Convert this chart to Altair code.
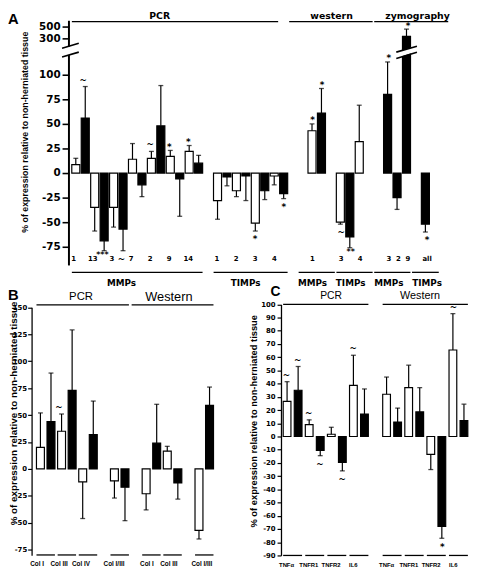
import altair as alt
import pandas as pd

YTITLE = "% of expression relative to non-herniated tissue"

# ================= Panel A (PCR / western / zymography) =================
a_slot = [0, 1, 2, 3, 4, 5, 6, 7, 8, 9, 10, 11, 12, 13,
          15, 16, 17, 18, 19, 20, 21, 22,
          25, 26, 28, 29, 30,
          33, 34, 35, 37]
a_fill = (["w", "b"] * 7 + ["w", "b"] * 4
          + ["w", "b", "w", "b", "w"] + ["b", "b", "b", "b"])
a_value = [8.5, 56, -35, -69, -35, -57, 14, -12, 15, 48, 17, -6, 22, 10,
           -28, -4, -18, -3, -51, -18, -3, -21,
           43, 61, -50, -65, 32,
           80, -25, 335, -52]
a_err = [15, 88, -59, -79, -55, -79, 30, -24, 22, 89, 23, -44, 28, 18,
         -47, -13, -24, -28, -59, -27, -12, -26,
         50, 86, -52, -76, 69,
         113, -37, 458, -60]
a_sig = ["", "~", "", "***", "", "~", "", "", "~", "", "*", "", "*", "",
         "", "", "", "", "*", "", "", "*",
         "*", "*", "~", "**", "",
         "*", "", "*", "*"]
a_cat_text = ["1", "13", "3", "7", "2", "9", "14", "1", "2", "3", "4",
              "1", "3", "4", "3", "2", "9", "all"]
a_cat_slot = [0, 2, 4, 6, 8, 10, 12, 15, 17, 19, 21, 25, 28, 30, 33, 34, 35, 37]
a_grp_text = ["MMPs", "TIMPs", "MMPs", "TIMPs", "MMPs", "TIMPs"]
a_grp_from = [0, 15, 24, 28, 32, 36]
a_grp_to = [13, 22, 27, 31, 35, 38]
a_grp_at = [5, 18, 25, 29, 33, 37]
a_top_text = ["PCR", "western", "zymography"]
a_top_from = [0, 23, 32]
a_top_to = [21, 31, 39]
a_top_at = [9, 27, 36]
a_ticks = [-75, -50, -25, 0, 25, 50, 75, 100, 300, 500]
a_axis_lo = [-94, 200]
a_axis_hi = [120, 600]

# ================= Panel B (collagens) =================
b_slot = [0, 1, 2, 3, 4, 5, 7, 8, 10, 11, 12, 13, 15, 16]
b_fill = ["w", "b"] * 7
b_value = [20, 44, 35, 73, -12, 32, -11, -17, -23, 24, 16.5, -13, -57, 59]
b_err = [52, 89, 51, 129, -46, 63, -27, -48, -38, 60, 21, -28, -65, 76]
b_sig = ["", "", "~", "", "", "", "", "", "", "", "", "", "", ""]
b_cat_text = ["Col I", "Col III", "Col IV", "Col I/III", "Col I", "Col III", "Col I/III"]
b_cat_slot = [0, 2, 4, 7, 10, 12, 15]
b_top_text = ["PCR", "Western"]
b_top_from = [0, 9]
b_top_to = [8, 16]
b_top_at = [4, 12]
b_ticks = [150, 125, 100, 75, 50, 25, 0, -25, -50, -75]

# ================= Panel C (cytokines) =================
c_slot = [0, 1, 2, 3, 4, 5, 6, 7, 9, 10, 11, 12, 13, 14, 15, 16]
c_fill = ["w", "b"] * 8
c_value = [26.6, 35, 9, -10.6, 1.7, -19.5, 38.7, 17, 32, 11, 37, 18.6, -13.5, -68, 65.5, 12]
c_err = [41.5, 53, 12.6, -14.5, 7, -26, 61.5, 36, 45, 21.5, 54, 37, -25, -77, 93, 24.5]
c_sig = ["~", "~", "~", "~", "", "~", "~", "", "", "", "", "", "", "*", "~", ""]
c_cat_text = ["TNFα", "TNFR1", "TNFR2", "IL6", "TNFα", "TNFR1", "TNFR2", "IL6"]
c_cat_slot = [0, 2, 4, 6, 9, 11, 13, 15]
c_top_text = ["PCR", "Western"]
c_top_from = [0, 9]
c_top_to = [7, 16]
c_top_at = [4, 12]
c_ticks = list(range(100, -91, -10))

# ---------------------------------------------------------------
FILL_SCALE = alt.Scale(domain=["w", "b"], range=["white", "black"])
ONE = pd.DataFrame({"k": [0]})


def names(prefix, idx):
    return [f"{prefix}{i}" for i in idx]


def bars_df(prefix, slots, fills, values, errs, sigs):
    df = pd.DataFrame({"slot": names(prefix, slots), "fill": fills,
                       "value": values, "err": errs, "sig": sigs})
    df["dir"] = ["up" if e >= 0 else "down" for e in errs]
    df["kind"] = [("multi" if len(s) > 1 else "star") if "*" in s else ("tilde" if s else "")
                  for s in sigs]
    return df


def core_layers(df, xs, ys, axis):
    x = alt.X("slot:N", scale=xs, axis=None)
    base = alt.Chart(df)
    bars = base.mark_bar(stroke="black", strokeWidth=1.2).encode(
        x=x, y=alt.Y("value:Q", scale=ys, axis=axis, stack=None),
        fill=alt.Fill("fill:N", scale=FILL_SCALE, legend=None))
    whisk = base.mark_rule(color="black", strokeWidth=1.2).encode(
        x=x, y=alt.Y("value:Q", scale=ys, axis=None), y2="err")
    caps = base.mark_tick(color="black", orient="horizontal", size=5, thickness=1.3).encode(
        x=x, y=alt.Y("err:Q", scale=ys, axis=None))
    layers = [bars, whisk, caps]
    for d, k, dy, fs in [("up", "tilde", -7, 9), ("up", "star", -3.5, 9),
                         ("down", "tilde", 8.5, 9), ("down", "star", 8.5, 9),
                         ("down", "multi", 4, 8)]:
        layers.append(
            base.transform_filter(f"datum.dir == '{d}' && datum.kind == '{k}'")
            .mark_text(font="DejaVu Sans", fontWeight="bold", fontSize=fs, dy=dy,
                       baseline="middle", align="center", color="black", fill="black")
            .encode(x=x, y=alt.Y("err:Q", scale=ys, axis=None), text="sig:N"))
    return layers


def text_row(prefix, texts, slots, xs, ypix, size, font, weight="bold", band=0.5):
    df = pd.DataFrame({"slot": names(prefix, slots), "label": texts})
    return alt.Chart(df).mark_text(fontSize=size, font=font, fontWeight=weight,
                                   baseline="middle", align="center",
                                   color="black", fill="black").encode(
        x=alt.X("slot:N", scale=xs, axis=None, bandPosition=band),
        y=alt.value(ypix), text="label:N")


def line_row(prefix, starts, ends, xs, ypix, width=1.3, off=4):
    df = pd.DataFrame({"a": names(prefix, starts), "b": names(prefix, ends)})
    return alt.Chart(df).mark_rule(color="black", strokeWidth=width,
                                   xOffset=-off, x2Offset=off).encode(
        x=alt.X("a:N", scale=xs, axis=None), x2="b", y=alt.value(ypix))


def px_text(txt, x, y, size, font="Liberation Sans", weight="bold"):
    return alt.Chart(ONE).mark_text(text=txt, fontSize=size, font=font, fontWeight=weight,
                                    align="left", baseline="middle",
                                    color="black", fill="black").encode(
        x=alt.value(x), y=alt.value(y))


def px_line(x1, y1, x2, y2, w, color="black"):
    return alt.Chart(ONE).mark_rule(color=color, strokeWidth=w).encode(
        x=alt.value(x1), y=alt.value(y1), x2=alt.value(x2), y2=alt.value(y2))


LABEL_EXPR = "'' + datum.value"

# ---------------- Panel A ----------------
xA = alt.Scale(domain=names("a", range(42)), range=[62, 470],
               paddingInner=0.15, paddingOuter=0.3)
yA = alt.Scale(domain=[-94, 120, 250, 560], range=[257, 43, 29, 10.5],
               nice=False, zero=False)
axA = alt.Axis(orient="left", offset=-62, values=a_ticks, domain=False, grid=False,
               tickSize=7, tickWidth=1.6, tickColor="black",
               labelColor="black", labelFont="DejaVu Sans", labelFontWeight="bold",
               labelFontSize=10.5, labelPadding=2, labelOverlap=False, labelFlush=False,
               labelExpr=LABEL_EXPR,
               title=YTITLE, titleFont="Liberation Sans", titleFontSize=9,
               titleFontWeight="bold", titleColor="black", titleAngle=270,
               titleX=-45, titleY=121, titleAlign="center", titleBaseline="middle")
dfA = bars_df("a", a_slot, a_fill, a_value, a_err, a_sig)
axis_seg = pd.DataFrame({"lo": a_axis_lo, "hi": a_axis_hi})
layersA = core_layers(dfA, xA, yA, axA) + [
    alt.Chart(axis_seg).mark_rule(color="black", strokeWidth=2).encode(
        x=alt.value(62), y=alt.Y("lo:Q", scale=yA, axis=None), y2="hi"),
    px_line(55, 36, 72, 31, 1.6),
    px_line(55, 45, 72, 40, 1.6),
    px_line(395, 43, 416, 36.5, 5.5, "white"),
    px_line(395, 40, 416, 34, 1.6),
    px_line(395, 46.5, 416, 40, 1.6),
    text_row("a", a_cat_text, a_cat_slot, xA, 250, 7, "DejaVu Sans"),
    line_row("a", a_grp_from, a_grp_to, xA, 264),
    text_row("a", a_grp_text[:2], a_grp_at[:2], xA, 274.5, 9, "DejaVu Sans"),
    text_row("a", a_grp_text[2:], a_grp_at[2:], xA, 274.5, 9, "DejaVu Sans", band=1),
    line_row("a", a_top_from, a_top_to, xA, 9),
    text_row("a", a_top_text, a_top_at, xA, 3, 9.5, "DejaVu Sans"),
    px_text("A", 0, 6, 15),
]

# ---------------- Panel B ----------------
xB = alt.Scale(domain=names("b", range(17)), range=[24, 214],
               paddingInner=0.25, paddingOuter=0.46)
yB = alt.Scale(domain=[-80, 150], range=[551.7, 299.6], nice=False, zero=False)
axB = alt.Axis(orient="left", offset=-24, values=b_ticks, domain=True, domainColor="black",
               domainWidth=1.3, grid=False, tickSize=4, tickWidth=1.2, tickColor="black",
               labelColor="black", labelFont="DejaVu Sans", labelFontWeight="bold",
               labelFontSize=7, labelPadding=1, labelOverlap=False, labelFlush=False,
               labelExpr=LABEL_EXPR,
               title=YTITLE, titleFont="Liberation Sans", titleFontSize=10,
               titleFontWeight="bold", titleColor="black", titleAngle=270,
               titleX=-18.5, titleY=407, titleAlign="center", titleBaseline="middle")
dfB = bars_df("b", b_slot, b_fill, b_value, b_err, b_sig)
layersB = core_layers(dfB, xB, yB, axB) + [
    line_row("b", b_cat_slot, [s + 1 for s in b_cat_slot], xB, 551.5),
    text_row("b", b_cat_text, b_cat_slot, xB, 561, 6.5, "Liberation Sans", band=1),
    line_row("b", b_top_from, b_top_to, xB, 297),
    text_row("b", b_top_text[:1], b_top_at[:1], xB, 289, 11.5, "Liberation Sans",
             weight="normal"),
    text_row("b", b_top_text[1:], b_top_at[1:], xB, 289, 13, "Liberation Sans",
             weight="normal"),
    px_text("B", 0, 287, 15),
]

# ---------------- Panel C ----------------
xC = alt.Scale(domain=names("c", range(17)), range=[277.7, 470],
               paddingInner=0.3, paddingOuter=0.2)
yC = alt.Scale(domain=[-90, 100], range=[552, 296.6], nice=False, zero=False)
axC = alt.Axis(orient="left", offset=-277.7, values=c_ticks, domain=True, domainColor="black",
               domainWidth=1.3, grid=False, tickSize=4, tickWidth=1.2, tickColor="black",
               labelColor="black", labelFont="DejaVu Sans", labelFontWeight="bold",
               labelFontSize=7, labelPadding=2, labelOverlap=False, labelFlush=False,
               labelExpr=LABEL_EXPR,
               title=YTITLE, titleFont="Liberation Sans", titleFontSize=9.5,
               titleFontWeight="bold", titleColor="black", titleAngle=270,
               titleX=-27.7, titleY=415, titleAlign="center", titleBaseline="middle")
dfC = bars_df("c", c_slot, c_fill, c_value, c_err, c_sig)
layersC = core_layers(dfC, xC, yC, axC) + [
    line_row("c", c_cat_slot, [s + 1 for s in c_cat_slot], xC, 552),
    text_row("c", c_cat_text, c_cat_slot, xC, 562, 6, "Liberation Sans", band=1),
    line_row("c", c_top_from, c_top_to, xC, 296.5),
    text_row("c", c_top_text[:1], c_top_at[:1], xC, 288, 10.5, "Liberation Sans",
             weight="normal"),
    text_row("c", c_top_text[1:], c_top_at[1:], xC, 288, 11, "Liberation Sans",
             weight="normal"),
    px_text("C", 267, 284, 14),
]

chart = (
    alt.layer(*layersA, *layersB, *layersC)
    .resolve_scale(x="independent", y="independent")
    .properties(width=472, height=567, padding=0,
                autosize=alt.AutoSizeParams(type="none"),
                background="white")
    .configure_view(stroke=None)
)

chart.save("out.html", embed_options={"renderer": "svg", "actions": False})
